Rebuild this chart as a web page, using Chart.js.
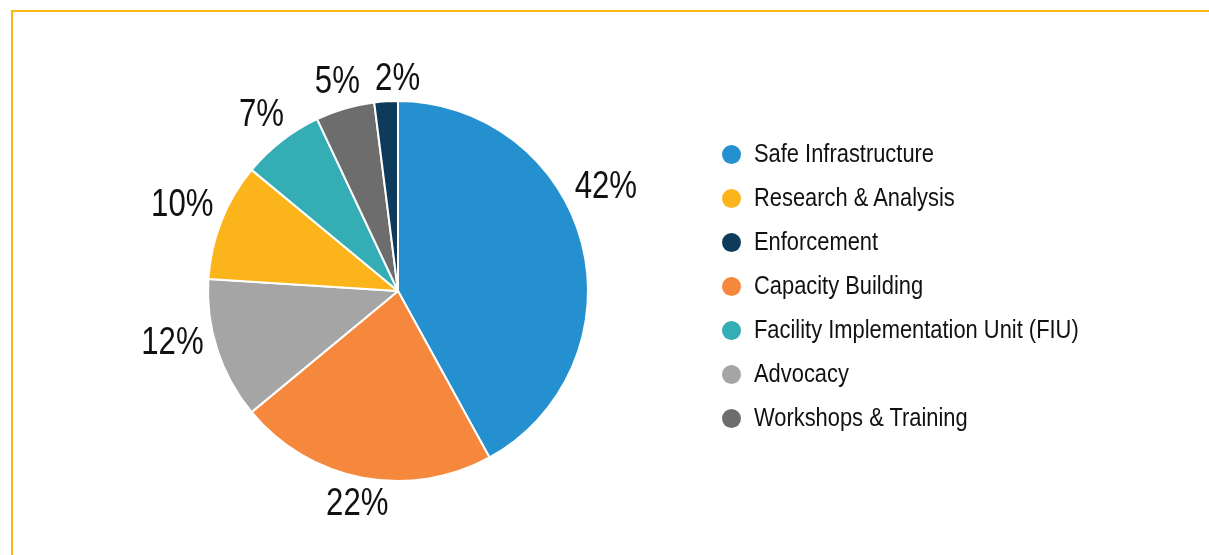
<!DOCTYPE html>
<html>
<head>
<meta charset="utf-8">
<script src="https://cdn.jsdelivr.net/npm/chart.js@4.4.1/dist/chart.umd.min.js"></script>
<style>
  html, body { margin: 0; padding: 0; background: #fff; }
  body { width: 1209px; height: 555px; position: relative; overflow: hidden;
         font-family: 'Liberation Sans', Arial, sans-serif; }
  .frame { position: absolute; left: 11px; top: 10px; right: -5px; bottom: -5px;
           border-top: 2px solid #FBB614; border-left: 2px solid #FBB614; }
  #pie { position: absolute; left: 0; top: 0; }
  #legend { position: absolute; left: 722px; top: 131px; margin: 0; padding: 0; list-style: none; }
  #legend li { height: 44px; line-height: 44px; font-size: 26.7px; color: #111; white-space: nowrap; }
  #legend .dot { display: inline-block; width: 19px; height: 19px; border-radius: 50%;
                 margin-right: 13px; vertical-align: -2px; }
  /* narrow face: Arial Narrow is close to Arial squeezed to 82% */
  #legend .txt { display: inline-block; transform: scaleX(0.82); transform-origin: 0 50%; }
</style>
</head>
<body>
<div class="frame"></div>
<canvas id="pie" width="1209" height="555"></canvas>
<ul id="legend"></ul>
<script>
// Slices in drawing order (clockwise from 12 o'clock)
const categories = ['Safe Infrastructure', 'Capacity Building', 'Advocacy', 'Research & Analysis',
  'Facility Implementation Unit (FIU)', 'Workshops & Training', 'Enforcement'];
const shares = [42, 22, 12, 10, 7, 5, 2]; // %
const colors = ['#2590CF', '#F6883D', '#A5A5A5', '#FBB51A', '#34ADB5', '#6D6D6D', '#0E3A5C'];
// Legend order as in the source
const legendOrder = ['Safe Infrastructure', 'Research & Analysis', 'Enforcement', 'Capacity Building',
  'Facility Implementation Unit (FIU)', 'Advocacy', 'Workshops & Training'];

const NARROW = 0.82;

// Percent labels outside the slices
const outsideLabels = {
  id: 'outsideLabels',
  afterDatasetsDraw(chart, args, opts) {
    const ctx = chart.ctx;
    const meta = chart.getDatasetMeta(0);
    const data = chart.data.datasets[0].data;
    ctx.save();
    ctx.font = `${opts.size}px 'Liberation Sans', Arial, sans-serif`;
    ctx.fillStyle = '#111';
    ctx.textAlign = 'center';
    ctx.textBaseline = 'middle';
    meta.data.forEach((arc, i) => {
      const p = arc.getProps(['x', 'y', 'startAngle', 'endAngle', 'outerRadius'], true);
      const mid = (p.startAngle + p.endAngle) / 2 + (opts.shift[i] || 0) * Math.PI / 180;
      const txt = data[i] + '%';
      const hw = ctx.measureText(txt).width * NARROW / 2;
      const hh = opts.size * 0.36;
      const c = Math.cos(mid), s = Math.sin(mid);
      const d = p.outerRadius + opts.gap + Math.abs(c) * hw + Math.abs(s) * hh;
      ctx.save();
      ctx.translate(p.x + c * d, p.y + s * d);
      ctx.scale(NARROW, 1);
      ctx.fillText(txt, 0, 0);
      ctx.restore();
    });
    ctx.restore();
  }
};

const chart = new Chart(document.getElementById('pie'), {
  type: 'pie',
  data: {
    labels: categories,
    datasets: [{
      data: shares,
      backgroundColor: colors,
      borderColor: '#fff',
      borderWidth: 2
    }]
  },
  options: {
    responsive: false,
    animation: false,
    layout: { padding: { left: 206, right: 619, top: 100, bottom: 73 } },
    plugins: {
      legend: { display: false },
      tooltip: { enabled: false },
      outsideLabels: { size: 38, gap: 8, shift: { 0: -12, 2: 5, 6: 3.5 } }
    }
  },
  plugins: [outsideLabels]
});

// HTML legend, sorted like the original
const items = Chart.overrides.pie.plugins.legend.labels.generateLabels(chart);
items.sort((a, b) => legendOrder.indexOf(a.text) - legendOrder.indexOf(b.text));
const ul = document.getElementById('legend');
items.forEach(it => {
  const li = document.createElement('li');
  li.innerHTML = `<span class="dot" style="background:${it.fillStyle}"></span><span class="txt">${it.text}</span>`;
  ul.appendChild(li);
});
</script>
</body>
</html>
